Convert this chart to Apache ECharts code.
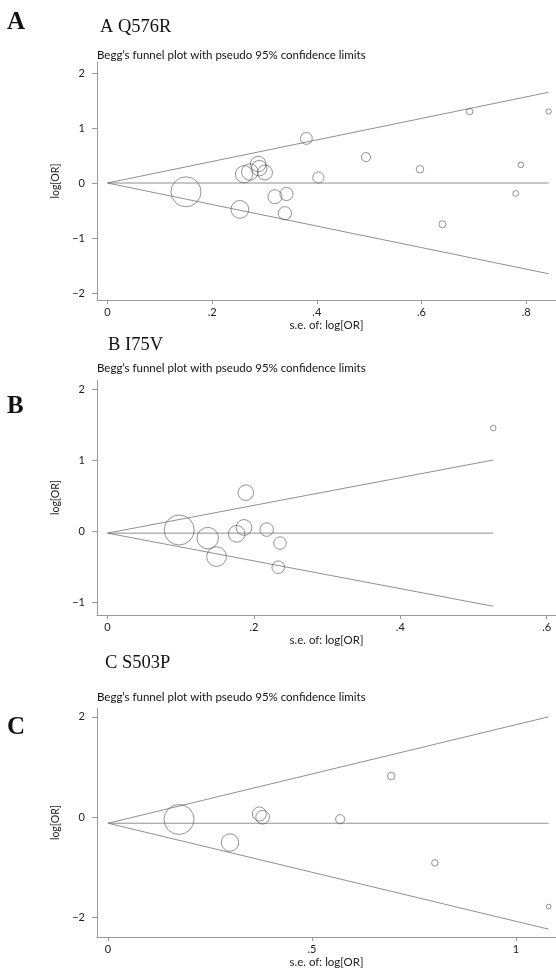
<!DOCTYPE html>
<html><head><meta charset="utf-8">
<script src="https://cdn.jsdelivr.net/npm/echarts@6/dist/echarts.min.js"></script>
<style>html,body{margin:0;padding:0;background:#fff}#c{width:556px;height:969px}</style>
</head><body><div id="c"></div>
<script>
// ---------- Panel A: Q576R ----------
const seA     = [0.150, 0.253, 0.261, 0.272, 0.288, 0.290, 0.301, 0.320, 0.342, 0.339, 0.380, 0.403, 0.494, 0.597, 0.640, 0.692, 0.780, 0.790, 0.843];
const logOrA  = [-0.16, -0.48, 0.16, 0.20, 0.345, 0.27, 0.19, -0.25, -0.20, -0.55, 0.81, 0.10, 0.47, 0.25, -0.75, 1.30, -0.19, 0.33, 1.30];
const funnelA = [0.00, 0.843, 1.65, -1.65];   // pooled, max se, upper limit at max se, lower limit at max se
const xTicksA = [0, 0.2, 0.4, 0.6, 0.8];
const yTicksA = [-2, -1, 0, 1, 2];

// ---------- Panel B: I75V ----------
const seB     = [0.098, 0.137, 0.149, 0.1765, 0.1865, 0.189, 0.2175, 0.2357, 0.2333, 0.527];
const logOrB  = [0.014, -0.10, -0.36, -0.04, 0.05, 0.54, 0.02, -0.17, -0.51, 1.45];
const funnelB = [-0.03, 0.527, 1.00, -1.06];
const xTicksB = [0, 0.2, 0.4, 0.6];
const yTicksB = [-1, 0, 1, 2];

// ---------- Panel C: S503P ----------
const seC     = [0.174, 0.299, 0.371, 0.379, 0.569, 0.694, 0.801, 1.080];
const logOrC  = [-0.045, -0.505, 0.065, 0.0, -0.04, 0.82, -0.91, -1.78];
const funnelC = [-0.12, 1.080, 2.00, -2.23];
const xTicksC = [0, 0.5, 1];
const yTicksC = [-2, 0, 2];

const panelTitles = ['A Q576R', 'B I75V', 'C S503P'];
const panelLetters = ['A', 'B', 'C'];
const plotTitle = "Begg\u2019s funnel plot with pseudo 95% confidence limits";
const xName = 's.e. of: log[OR]';
const yName = 'log[OR]';

const SANS = 'Lato, "Open Sans", "DejaVu Sans", sans-serif';
const SERIF = '"Liberation Serif", "DejaVu Serif", serif';
const AX = '#9a9a9a';
const TXT = '#222';

const fmtX = v => v === 0 ? '0' : String(+v.toFixed(3)).replace(/^0\./, '.');
const fmtY = v => v < 0 ? '\u2212' + Math.abs(v) : String(v);

const grids = [
  {left: 97, top: 62, width: 459, height: 238},
  {left: 97, top: 380, width: 459, height: 235},
  {left: 97, top: 708, width: 459, height: 235}
];
const ranges = [
  {x: [-0.020, 0.857], y: [-2.127, 2.2], xt: xTicksA, yt: yTicksA},
  {x: [-0.0143, 0.6127], y: [-1.183, 2.127], xt: xTicksB, yt: yTicksB},
  {x: [-0.027, 1.098], y: [-2.388, 2.175], xt: xTicksC, yt: yTicksC}
];

const xAxes = ranges.map((r, i) => ({
  type: 'value', gridIndex: i, min: r.x[0], max: r.x[1],
  axisLine: {show: true, onZero: false, lineStyle: {color: AX, width: 1}},
  axisTick: {show: true, customValues: r.xt, length: 4, lineStyle: {color: AX}},
  axisLabel: {customValues: r.xt, formatter: fmtX, fontSize: 11, color: TXT, margin: 7, fontFamily: SANS},
  splitLine: {show: false},
  name: xName, nameLocation: 'middle', nameGap: 17,
  nameTextStyle: {fontSize: 11.5, color: TXT, fontFamily: SANS}
}));
const yAxes = ranges.map((r, i) => ({
  type: 'value', gridIndex: i, min: r.y[0], max: r.y[1],
  axisLine: {show: true, onZero: false, lineStyle: {color: AX, width: 1}},
  axisTick: {show: true, customValues: r.yt, length: 5, lineStyle: {color: AX}},
  axisLabel: {customValues: r.yt, formatter: fmtY, fontSize: 11, color: TXT, margin: 12, fontFamily: SANS},
  splitLine: {show: false},
  name: yName, nameLocation: 'middle', nameGap: 36, nameRotate: 90,
  nameTextStyle: {fontSize: 10.5, color: TXT, fontFamily: SANS}
}));

const panels = [[seA, logOrA, funnelA], [seB, logOrB, funnelB], [seC, logOrC, funnelC]];
const series = [];
panels.forEach(([se, lo, f], i) => {
  const lineStyle = {color: '#747474', width: 0.8};
  const common = {type: 'line', xAxisIndex: i, yAxisIndex: i, symbol: 'none', silent: true, lineStyle, z: 2};
  series.push(Object.assign({data: [[0, f[0]], [f[1], f[0]]]}, common));
  series.push(Object.assign({data: [[0, f[0]], [f[1], f[2]]]}, common));
  series.push(Object.assign({data: [[0, f[0]], [f[1], f[3]]]}, common));
  const minSe = Math.min(...se);
  series.push({
    type: 'scatter', xAxisIndex: i, yAxisIndex: i, silent: true, z: 3,
    data: se.map((s, k) => [s, lo[k]]),
    symbol: 'circle',
    symbolSize: d => 30 * minSe / d[0],
    itemStyle: {color: 'rgba(0,0,0,0)', borderColor: '#555', borderWidth: 0.8}
  });
});

const textEl = (x, y, text, font) => ({
  type: 'text', x, y, silent: true,
  style: {text, font, fill: '#111', textAlign: 'left', textVerticalAlign: 'middle'}
});
const graphic = [
  textEl(7, 23, panelLetters[0], 'bold 25px ' + SERIF),
  textEl(100, 27, panelTitles[0], '18.5px ' + SERIF),
  textEl(97, 55, plotTitle, '11.5px ' + SANS),
  textEl(7, 407, panelLetters[1], 'bold 25px ' + SERIF),
  textEl(108, 345, panelTitles[1], '18.5px ' + SERIF),
  textEl(97, 368, plotTitle, '11.5px ' + SANS),
  textEl(7, 728, panelLetters[2], 'bold 25px ' + SERIF),
  textEl(105, 663, panelTitles[2], '18.5px ' + SERIF),
  textEl(97, 697, plotTitle, '11.5px ' + SANS)
];

const chart = echarts.init(document.getElementById('c'), null, {renderer: 'canvas'});
chart.setOption({
  animation: false,
  backgroundColor: '#fff',
  grid: grids,
  xAxis: xAxes,
  yAxis: yAxes,
  series,
  graphic
});
</script>
</body></html>
